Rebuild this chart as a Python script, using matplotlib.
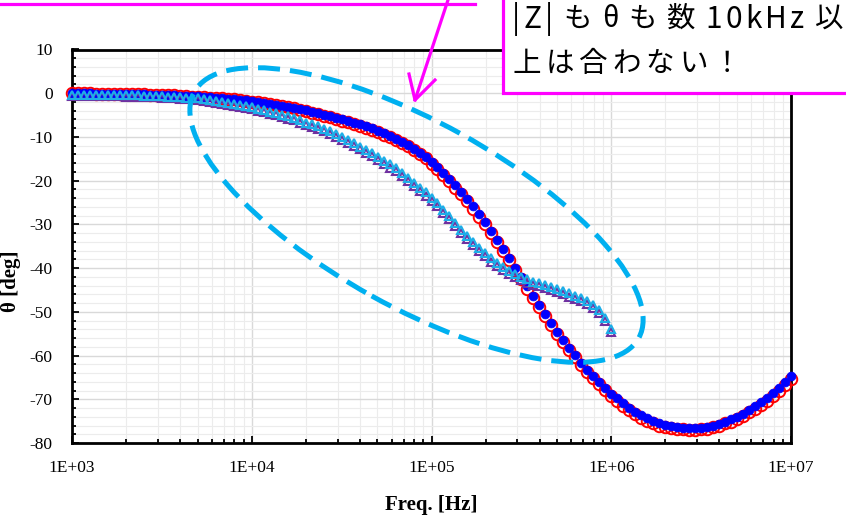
import numpy as np
import matplotlib.pyplot as plt
from matplotlib.patches import Ellipse, Rectangle
from matplotlib.lines import Line2D
from matplotlib.ticker import FixedLocator, FixedFormatter, LogLocator, NullFormatter, MultipleLocator

# ── data ──────────────────────────────────────────────────────────────────
# sweep grid: 30 points / decade
freq_circ = np.logspace(3, 7, 121)
freq_tri = freq_circ[:91]

theta_red = [
    0.00, -0.02, -0.04, -0.05, -0.07, -0.09, -0.11, -0.13, -0.15, -0.18,
    -0.21, -0.24, -0.27, -0.31, -0.35, -0.40, -0.45, -0.50, -0.56, -0.62,
    -0.76, -0.83, -0.91, -1.00, -1.10, -1.20, -1.31, -1.43, -1.56, -1.72,
    -1.90, -2.09, -2.29, -2.50, -2.72, -2.96, -3.21, -3.47, -3.74, -4.02,
    -4.52, -4.84, -5.17, -5.51, -5.87, -6.24, -6.62, -7.02, -7.43, -7.86,
    -8.35, -8.90, -9.45, -10.05, -10.70, -11.40, -12.15, -13.00, -13.90, -14.90,
    -16.20, -17.40, -18.70, -20.10, -21.60, -23.10, -24.70, -26.40, -28.20, -30.00,
    -32.00, -34.00, -36.10, -38.20, -40.40, -42.50, -44.70, -46.80, -48.90, -51.00,
    -53.00, -55.00, -56.90, -58.70, -60.40, -62.10, -63.70, -65.20, -66.60, -67.90,
    -69.30, -70.40, -71.50, -72.50, -73.40, -74.20, -74.90, -75.50, -76.00, -76.40,
    -76.50, -76.70, -76.90, -77.00, -77.00, -76.90, -76.70, -76.40, -76.00, -75.50,
    -75.10, -74.50, -73.80, -73.00, -72.20, -71.30, -70.30, -69.20, -68.10, -66.80,
    -65.40,
]
theta_blue = [
    0.00, -0.02, -0.04, -0.05, -0.07, -0.09, -0.11, -0.13, -0.15, -0.18,
    -0.21, -0.24, -0.27, -0.31, -0.35, -0.40, -0.45, -0.50, -0.56, -0.62,
    -0.66, -0.73, -0.81, -0.90, -1.00, -1.10, -1.21, -1.33, -1.46, -1.62,
    -1.80, -1.99, -2.19, -2.40, -2.62, -2.86, -3.11, -3.37, -3.64, -3.92,
    -4.22, -4.54, -4.87, -5.21, -5.57, -5.94, -6.32, -6.72, -7.13, -7.56,
    -8.05, -8.60, -9.15, -9.75, -10.40, -11.10, -11.85, -12.70, -13.60, -14.60,
    -15.70, -16.90, -18.20, -19.60, -21.10, -22.60, -24.20, -25.90, -27.70, -29.50,
    -31.50, -33.50, -35.60, -37.70, -39.90, -42.00, -44.20, -46.30, -48.40, -50.50,
    -52.50, -54.50, -56.40, -58.20, -59.90, -61.60, -63.20, -64.70, -66.10, -67.40,
    -68.70, -69.80, -70.90, -71.90, -72.80, -73.60, -74.30, -74.90, -75.40, -75.80,
    -76.10, -76.30, -76.50, -76.60, -76.60, -76.50, -76.30, -76.00, -75.60, -75.10,
    -74.60, -74.00, -73.30, -72.50, -71.60, -70.70, -69.70, -68.60, -67.40, -66.10,
    -64.70,
]
theta_purple = [
    -0.60, -0.61, -0.62, -0.63, -0.65, -0.67, -0.69, -0.71, -0.73, -0.76,
    -0.79, -0.82, -0.85, -0.89, -0.93, -0.98, -1.05, -1.13, -1.22, -1.32,
    -1.43, -1.60, -1.78, -1.97, -2.17, -2.38, -2.62, -2.87, -3.13, -3.40,
    -3.70, -4.00, -4.35, -4.70, -5.05, -5.40, -5.80, -6.20, -6.70, -7.20,
    -7.70, -8.20, -8.75, -9.30, -9.95, -10.60, -11.30, -12.00, -12.80, -13.60,
    -14.40, -15.20, -16.10, -17.00, -17.90, -19.00, -20.10, -21.20, -22.30, -23.40,
    -24.60, -25.90, -27.30, -28.80, -30.30, -31.90, -33.40, -34.80, -36.10, -37.30,
    -38.50, -39.50, -40.40, -41.30, -42.00, -42.70, -43.30, -43.80, -44.20, -44.60,
    -45.00, -45.50, -46.00, -46.50, -47.00, -47.60, -48.30, -49.10, -50.30, -52.10,
    -54.60,
]
theta_lblue = [
    -0.30, -0.31, -0.32, -0.33, -0.35, -0.37, -0.39, -0.41, -0.43, -0.46,
    -0.49, -0.52, -0.55, -0.59, -0.63, -0.68, -0.75, -0.83, -0.92, -1.02,
    -1.08, -1.20, -1.38, -1.57, -1.77, -1.98, -2.22, -2.47, -2.73, -3.00,
    -3.20, -3.50, -3.85, -4.20, -4.55, -4.90, -5.30, -5.70, -6.20, -6.70,
    -7.10, -7.60, -8.15, -8.70, -9.35, -10.00, -10.70, -11.40, -12.20, -13.00,
    -13.70, -14.50, -15.40, -16.30, -17.20, -18.30, -19.40, -20.50, -21.60, -22.70,
    -23.90, -25.20, -26.60, -28.10, -29.60, -31.20, -32.70, -34.10, -35.40, -36.60,
    -37.80, -38.80, -39.70, -40.60, -41.30, -42.00, -42.60, -43.10, -43.50, -43.90,
    -44.30, -44.80, -45.30, -45.80, -46.30, -46.90, -47.60, -48.40, -49.60, -51.40,
    -53.90,
]

xticks = [1e3, 1e4, 1e5, 1e6, 1e7]
xtick_labels = ['1E+03', '1E+04', '1E+05', '1E+06', '1E+07']
yticks = [10, 0, -10, -20, -30, -40, -50, -60, -70, -80]
ytick_labels = ['10', '0', '-10', '-20', '-30', '-40', '-50', '-60', '-70', '-80']

note_line1 = '|Z|もθも数10kHz以'
note_line2 = '上は合わない！'

# ── figure ────────────────────────────────────────────────────────────────
W, H = 846, 520
fig = plt.figure(figsize=(W / 100, H / 100), dpi=100)
ax = fig.add_axes([72 / W, 1 - 443 / H, (791 - 72) / W, (443 - 49.5) / H])

def px(x, y):
    # pixel (from top-left) -> figure fraction
    return x / W, 1 - y / H

ax.plot(freq_circ, theta_red, 'o', ms=8.3, mfc='none', mec='#FF0000', mew=1.4, clip_on=False, zorder=3)
ax.plot(freq_circ, theta_blue, 'o', ms=6.4, mfc='#0000FF', mec='#0000FF', mew=0.5, clip_on=False, zorder=4)
ax.plot(freq_tri, theta_purple, '^', ms=6.3, mfc='none', mec='#7030A0', mew=1.5, clip_on=False, zorder=5)
ax.plot(freq_tri, theta_lblue, '^', ms=6.3, mfc='none', mec='#1CAEE8', mew=1.5, clip_on=False, zorder=6)

ax.set_xscale('log')
ax.set_xlim(1e3, 1e7)
ax.set_ylim(-80, 10)

serif = 'Liberation Serif'
ax.xaxis.set_major_locator(FixedLocator(xticks))
ax.xaxis.set_major_formatter(FixedFormatter(xtick_labels))
ax.xaxis.set_minor_locator(LogLocator(base=10, subs=np.arange(2, 10)))
ax.xaxis.set_minor_formatter(NullFormatter())
ax.yaxis.set_major_locator(FixedLocator(yticks))
ax.yaxis.set_major_formatter(FixedFormatter(ytick_labels))
ax.yaxis.set_minor_locator(MultipleLocator(2))

ax.grid(which='major', color='#D9D9D9', lw=1.0)
ax.grid(which='minor', color='#ECECEC', lw=0.8)
ax.set_axisbelow(True)

ax.tick_params(which='both', direction='in', top=False, right=False, width=1.3, color='black')
ax.tick_params(which='major', length=5, labelsize=12.5)
ax.tick_params(which='minor', length=3)
ax.tick_params(axis='y', pad=14)
ax.tick_params(axis='x', pad=12)
for lab in ax.get_xticklabels() + ax.get_yticklabels():
    lab.set_fontfamily(serif)
for sp in ax.spines.values():
    sp.set_linewidth(2.0)
    sp.set_color('black')

fig.text(*px(431, 505), 'Freq. [Hz]', family=serif, fontweight='bold', fontsize=15, ha='center', va='center')
fig.text(*px(11, 281), 'θ [deg]', family=serif, fontweight='bold', fontsize=15, ha='center', va='center', rotation=90)

# dashed ellipse
ell = Ellipse((416.5 / 100, (H - 215) / 100), 5.08, 1.85, angle=-29,
              transform=fig.dpi_scale_trans, fill=False, ec='#00B0F0', lw=3.6,
              linestyle=(0, (4.4, 2.0)), zorder=7)
fig.add_artist(ell)

# callout box
mag = '#FF00FF'
box_x0, box_y0 = px(503, 93)
box = Rectangle((box_x0, box_y0), 1.05 - box_x0, 1.05 - box_y0, transform=fig.transFigure,
                fc='white', ec=mag, lw=2.3, zorder=8)
fig.add_artist(box)

# callout text: glyph by glyph, latin runs a bit tighter than the CJK glyphs
cjk = ['Noto Sans CJK JP', 'DejaVu Sans']
renderer = fig.canvas.get_renderer()

def is_wide(ch):
    return ord(ch) > 0x2FF

def tracked_text(s, x0, yc, target_w, tight=3.5):
    items = []
    for ch in s:
        size = 20.5 if is_wide(ch) else 21.5
        t = fig.text(*px(x0, yc), ch, family=cjk, fontsize=size, ha='left', va='center', zorder=9)
        items.append((t, t.get_window_extent(renderer).width))
    gaps = ['wide' if (is_wide(a) or is_wide(b)) else 'tight' for a, b in zip(s[:-1], s[1:])]
    natural = sum(w for _, w in items) + tight * gaps.count('tight')
    wide = (target_w - natural) / max(gaps.count('wide'), 1)
    x = x0
    for i, (t, w) in enumerate(items):
        t.set_position(px(x, yc))
        if i < len(gaps):
            x += w + (wide if gaps[i] == 'wide' else tight)

tracked_text(note_line1, 512, 19, 331)
tracked_text(note_line2, 512, 64, 229)

fig.add_artist(Line2D([0, 475 / W], [1 - 4 / H, 1 - 4 / H], transform=fig.transFigure, color=mag, lw=2.3))
fig.add_artist(Line2D([448 / W, 415 / W], [1.0, 1 - 100 / H], transform=fig.transFigure, color=mag, lw=2.3))
fig.add_artist(Line2D([409 / W, 415 / W, 435 / W], [1 - 74 / H, 1 - 100 / H, 1 - 80 / H],
                      transform=fig.transFigure, color=mag, lw=2.3))

fig.savefig('out.png', dpi=100)
